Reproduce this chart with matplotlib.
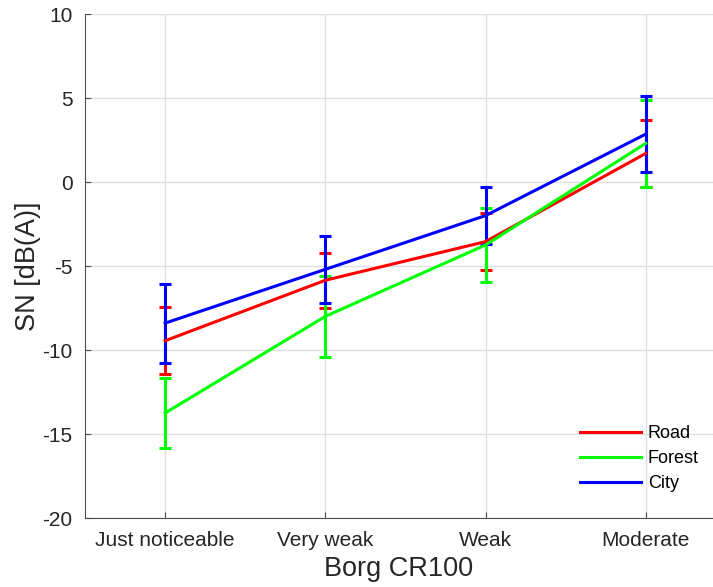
import numpy as np
import matplotlib.pyplot as plt
from matplotlib.lines import Line2D

plt.rcParams['font.family'] = ['Liberation Sans', 'DejaVu Sans']
plt.rcParams['axes.unicode_minus'] = False

categories = ['Just noticeable', 'Very weak', 'Weak', 'Moderate']
road_mean = [-9.45, -5.85, -3.55, 1.7]
road_err = [2.0, 1.65, 1.7, 2.0]
forest_mean = [-13.75, -8.0, -3.75, 2.3]
forest_err = [2.1, 2.4, 2.2, 2.6]
city_mean = [-8.4, -5.2, -2.0, 2.85]
city_err = [2.35, 2.0, 1.7, 2.25]

series = [
    ('Road', road_mean, road_err, (1, 0, 0)),
    ('Forest', forest_mean, forest_err, (0, 1, 0)),
    ('City', city_mean, city_err, (0, 0, 1)),
]

fig = plt.figure(figsize=(7.13, 5.87), dpi=100)
ax = fig.add_axes([85 / 713, 1 - 518 / 587, 1 - 85 / 713, (518 - 14) / 587])

x = np.arange(1, len(categories) + 1)
handles = []
for name, mean, err, col in series:
    ax.errorbar(x, mean, yerr=err, color=col, lw=2.2, elinewidth=2.2,
                capsize=4.5, capthick=2.2)
    handles.append(Line2D([], [], color=col, lw=2.2, label=name))

ax.set_xlim(0.5, 4.42)
ax.set_ylim(-20, 10)
ax.set_xticks(x)
ax.set_xticklabels(categories)
ax.set_yticks(np.arange(-20, 11, 5))
ax.grid(True, color=(0.88, 0.88, 0.88), lw=1)
ax.set_axisbelow(True)

for s in ['top', 'right']:
    ax.spines[s].set_visible(False)
for s in ['left', 'bottom']:
    ax.spines[s].set_color((0.3, 0.3, 0.3))
ax.tick_params(direction='in', length=4, colors=(0.3, 0.3, 0.3),
               labelcolor=(0.15, 0.15, 0.15), labelsize=15, pad=9)

ax.set_xlabel('Borg CR100', fontsize=19.5, color=(0.15, 0.15, 0.15), labelpad=5)
ax.set_ylabel('SN [dB(A)]', fontsize=19.5, color=(0.15, 0.15, 0.15), labelpad=1)

ax.legend(handles=handles, loc='upper left', frameon=False, fontsize=13,
          handlelength=3.4, handletextpad=0.35, labelspacing=0.44,
          borderpad=0, borderaxespad=0,
          bbox_to_anchor=(580 / 713, 1 - 425 / 587), bbox_transform=fig.transFigure)

fig.savefig('out.png', dpi=100)
